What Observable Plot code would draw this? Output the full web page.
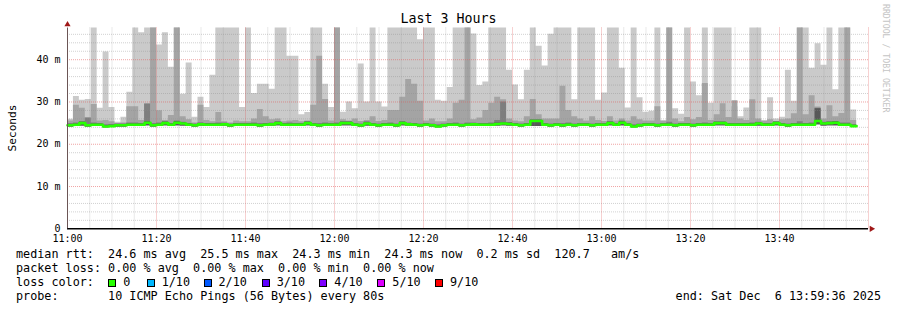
<!DOCTYPE html>
<html>
<head>
<meta charset="utf-8">
<script src="https://cdn.jsdelivr.net/npm/d3@7"></script>
<script src="https://cdn.jsdelivr.net/npm/@observablehq/plot@0.6"></script>
<style>
  html, body { margin: 0; padding: 0; background: #ffffff; }
  #chart { position: relative; width: 897px; height: 310px; background: #ffffff; overflow: hidden;
           font-family: "DejaVu Sans Mono", monospace; color: #000; }
  #chart svg { position: absolute; left: 0; top: 0; }
  .abs { position: absolute; white-space: pre; }
  #title { left: 0; width: 897px; top: 11px; text-align: center; font-size: 13.3px; }
  #ylab { left: 12px; top: 128px; font-size: 11.2px; transform: translate(-50%, -50%) rotate(-90deg); }
  #credit { left: 886px; top: 4px; font-size: 8.2px; color: #c4c4c4; writing-mode: vertical-rl; transform: translateX(-50%); }
  .leg { font-size: 11.78px; line-height: 14px; left: 16px; }
  .sq { position: absolute; width: 6px; height: 6px; border: 1px solid #000; }
  .sqt { position: absolute; font-size: 11.78px; line-height: 14px; white-space: pre; }
</style>
</head>
<body>
<div id="chart"></div>
<script>
// ---- data (80 s bins starting 11:00, minutes since 11:00 derived from index) ----
const stepSeconds = 80;
const maxRtt = [
  25.9, 31.3, 30.4, 30.6, 47.5, 28.5, 41.8, 28.7, 25.2, 26.4,
  32.3, 47.5, 46.4, 47.5, 47.5, 43.5, 46.4, 38.2, 47.5, 31.8,
  39.2, 26.4, 31.1, 28.7, 36.3, 47.5, 47.5, 47.5, 47.5, 28.7,
  47.5, 32.0, 34.2, 34.2, 33.0, 47.5, 47.5, 40.8, 40.8, 27.0,
  27.5, 47.5, 47.5, 34.2, 28.7, 47.5, 27.6, 30.0, 28.4, 39.0,
  30.0, 47.5, 30.0, 28.8, 47.5, 47.5, 47.5, 47.5, 47.5, 44.7,
  47.5, 47.5, 30.4, 30.2, 33.4, 47.5, 47.5, 47.5, 46.1, 33.9,
  34.7, 47.5, 47.5, 47.5, 37.5, 34.0, 30.5, 37.5, 47.5, 43.2,
  38.5, 46.0, 47.5, 47.5, 47.5, 30.5, 47.5, 47.5, 47.5, 30.4,
  32.1, 47.5, 47.5, 38.0, 28.6, 47.5, 31.0, 27.6, 27.8, 47.5,
  25.5, 47.5, 28.4, 27.1, 47.5, 34.7, 31.5, 47.5, 29.7, 47.5,
  47.5, 47.5, 28.9, 26.5, 28.6, 47.5, 47.5, 25.5, 31.0, 26.0,
  26.4, 37.5, 30.2, 47.5, 47.5, 38.0, 43.8, 38.7, 47.5, 32.9,
  47.5, 47.5, 28.1
];
const ping9 = [
  25.5, 29.2, 28.5, 26.2, 29.4, 25.5, 25.6, 25.3, 24.9, 25.0,
  28.9, 28.9, 25.6, 29.5, 47.5, 27.9, 25.6, 26.8, 47.5, 26.5,
  25.8, 25.0, 29.2, 25.6, 25.3, 27.5, 25.3, 25.0, 25.5, 25.3,
  25.3, 26.0, 28.2, 26.5, 25.8, 26.0, 25.3, 25.5, 25.6, 25.3,
  25.5, 29.2, 40.8, 30.6, 25.5, 47.5, 25.8, 25.5, 26.0, 25.4,
  25.6, 26.5, 25.4, 25.6, 28.0, 28.0, 31.1, 35.3, 34.2, 30.2,
  25.5, 26.0, 25.3, 25.3, 26.0, 29.7, 30.4, 47.5, 25.8, 26.2,
  28.0, 29.7, 31.1, 30.5, 26.0, 25.5, 25.3, 26.5, 30.6, 27.0,
  26.0, 26.0, 26.0, 33.7, 28.0, 26.5, 26.0, 25.5, 26.5, 25.6,
  25.4, 26.5, 25.5, 26.0, 25.5, 26.5, 25.8, 25.5, 25.5, 28.9,
  25.5, 47.5, 26.0, 25.3, 26.3, 25.8, 26.3, 34.4, 25.6, 27.0,
  29.6, 26.3, 30.3, 26.0, 25.6, 30.5, 26.0, 25.5, 25.8, 25.3,
  25.8, 26.0, 27.2, 47.5, 27.0, 31.5, 28.8, 26.0, 29.1, 26.5,
  27.3, 47.5, 25.6
];
const ping8 = [
  24.9, 25.0, 25.4, 26.2, 25.0, 24.9, 24.6, 24.7, 24.8, 24.8,
  25.0, 25.0, 24.9, 29.5, 24.9, 25.0, 25.4, 24.9, 25.5, 25.2,
  24.9, 24.8, 25.1, 24.9, 24.9, 25.0, 25.0, 24.8, 24.9, 24.9,
  24.9, 25.0, 24.9, 24.9, 25.0, 25.4, 24.9, 25.0, 24.9, 24.9,
  25.4, 24.9, 24.9, 25.0, 24.9, 25.0, 25.4, 25.4, 24.9, 24.8,
  25.3, 24.9, 24.8, 24.9, 25.0, 24.8, 25.4, 25.0, 24.9, 24.8,
  24.9, 24.8, 24.6, 24.8, 24.9, 25.0, 24.8, 25.0, 25.0, 24.9,
  24.9, 25.0, 25.6, 30.0, 25.1, 24.9, 24.8, 24.9, 25.8, 25.8,
  24.9, 24.8, 24.9, 24.9, 25.0, 24.8, 24.9, 24.9, 24.8, 24.9,
  24.9, 25.4, 24.9, 25.5, 24.9, 24.6, 24.8, 24.9, 24.9, 24.8,
  24.9, 25.2, 24.8, 24.9, 24.9, 24.8, 24.9, 25.0, 24.9, 25.3,
  25.3, 24.9, 24.9, 24.9, 24.9, 25.0, 25.2, 24.9, 24.9, 25.3,
  24.9, 24.8, 24.9, 25.3, 24.9, 25.0, 28.5, 25.2, 25.3, 25.4,
  25.0, 25.0, 24.6
];
const ping7 = [
  24.7, 24.8, 25.2, 24.7, 24.8, 24.8, 24.4, 24.5, 24.7, 24.7,
  24.8, 24.8, 24.8, 25.3, 24.7, 24.8, 25.2, 24.8, 25.3, 25.1,
  24.8, 24.7, 24.9, 24.8, 24.8, 24.8, 24.9, 24.7, 24.8, 24.8,
  24.8, 24.8, 24.7, 24.8, 24.9, 25.2, 24.8, 24.8, 24.8, 24.8,
  25.2, 24.8, 24.7, 24.8, 24.8, 24.8, 25.2, 25.2, 24.8, 24.7,
  25.1, 24.8, 24.7, 24.8, 24.8, 24.7, 25.2, 24.9, 24.8, 24.7,
  24.8, 24.7, 24.4, 24.7, 24.8, 24.8, 24.7, 24.8, 24.9, 24.8,
  24.8, 24.8, 25.0, 25.1, 25.0, 24.8, 24.7, 24.8, 25.7, 25.7,
  24.8, 24.7, 24.8, 24.7, 24.8, 24.7, 24.8, 24.8, 24.7, 24.8,
  24.8, 25.2, 24.8, 25.3, 24.8, 24.4, 24.7, 24.8, 24.8, 24.7,
  24.8, 24.8, 24.7, 24.8, 24.8, 24.7, 24.8, 24.8, 24.8, 25.2,
  25.2, 24.8, 24.8, 24.8, 24.8, 24.8, 25.1, 24.8, 24.8, 25.2,
  24.8, 24.7, 24.8, 24.8, 24.8, 24.8, 28.4, 25.1, 25.2, 25.3,
  24.8, 24.8, 24.5
];
const medianRtt = [
  24.5, 24.6, 25.0, 24.5, 24.6, 24.6, 24.2, 24.3, 24.5, 24.5,
  24.6, 24.6, 24.6, 25.1, 24.5, 24.6, 25.0, 24.6, 25.1, 24.9,
  24.6, 24.5, 24.7, 24.6, 24.6, 24.6, 24.7, 24.5, 24.6, 24.6,
  24.6, 24.6, 24.5, 24.6, 24.7, 25.0, 24.6, 24.6, 24.6, 24.6,
  25.0, 24.6, 24.5, 24.6, 24.6, 24.6, 25.0, 25.0, 24.6, 24.5,
  24.9, 24.6, 24.5, 24.6, 24.6, 24.5, 25.0, 24.7, 24.6, 24.5,
  24.6, 24.5, 24.2, 24.5, 24.6, 24.6, 24.5, 24.6, 24.7, 24.6,
  24.6, 24.6, 24.8, 24.9, 24.8, 24.6, 24.5, 24.6, 25.5, 25.5,
  24.6, 24.5, 24.6, 24.5, 24.6, 24.5, 24.6, 24.6, 24.5, 24.6,
  24.6, 25.0, 24.6, 25.1, 24.6, 24.2, 24.5, 24.6, 24.6, 24.5,
  24.6, 24.6, 24.5, 24.6, 24.6, 24.5, 24.6, 24.6, 24.6, 25.0,
  25.0, 24.6, 24.6, 24.6, 24.6, 24.6, 24.9, 24.6, 24.6, 25.0,
  24.6, 24.5, 24.6, 24.6, 24.6, 24.6, 25.5, 24.9, 25.0, 25.1,
  24.6, 24.6, 24.3
];
const minRtt = [
  24.1, 24.2, 24.3, 24.1, 24.2, 24.2, 23.9, 24.0, 24.1, 24.1,
  24.2, 24.2, 24.2, 24.4, 24.1, 24.2, 24.4, 24.2, 24.4, 24.3,
  24.2, 24.1, 24.3, 24.2, 24.2, 24.2, 24.3, 24.1, 24.2, 24.2,
  24.2, 24.2, 24.1, 24.2, 24.3, 24.4, 24.2, 24.2, 24.2, 24.2,
  24.4, 24.2, 24.1, 24.2, 24.2, 24.2, 24.4, 24.4, 24.2, 24.1,
  24.3, 24.2, 24.1, 24.2, 24.2, 24.1, 24.4, 24.3, 24.2, 24.1,
  24.2, 24.1, 23.9, 24.1, 24.2, 24.2, 24.1, 24.2, 24.3, 24.2,
  24.2, 24.2, 24.3, 24.4, 24.3, 24.2, 24.1, 24.2, 24.2, 24.2,
  24.2, 24.1, 24.2, 24.1, 24.2, 24.1, 24.2, 24.2, 24.1, 24.2,
  24.2, 24.4, 24.2, 24.4, 24.2, 23.9, 24.1, 24.2, 24.2, 24.1,
  24.2, 24.2, 24.1, 24.2, 24.2, 24.1, 24.2, 24.2, 24.2, 24.4,
  24.4, 24.2, 24.2, 24.2, 24.2, 24.2, 24.3, 24.2, 24.2, 24.4,
  24.2, 24.1, 24.2, 24.2, 24.2, 24.2, 24.6, 24.3, 24.4, 24.4,
  24.2, 24.2, 24.0
];
const xTickMinutes = [0, 20, 40, 60, 80, 100, 120, 140, 160];
const xTickLabels = ["11:00", "11:20", "11:40", "12:00", "12:20", "12:40", "13:00", "13:20", "13:40"];
const yTicks = [0, 10, 20, 30, 40];
const yTickLabels = ["0", "10 m", "20 m", "30 m", "40 m"];
const lossColors = [
  {label: "0", color: "#26ff00"},
  {label: "1/10", color: "#00b8ff"},
  {label: "2/10", color: "#0059ff"},
  {label: "3/10", color: "#5e00ff"},
  {label: "4/10", color: "#7e00ff"},
  {label: "5/10", color: "#dd00ff"},
  {label: "9/10", color: "#ff0000"}
];
const smokeColors = ["#cacaca", "#a4a4a4", "#7e7e7e", "#585858"];

// ---- build table ----
const rows = maxRtt.map((v, i) => ({
  t: i * stepSeconds / 60, lo: minRtt[i], hi1: v, hi2: ping9[i], hi3: ping8[i], hi4: ping7[i], med: medianRtt[i]
}));
const last = rows[rows.length - 1];
rows.push({...last, t: rows.length * stepSeconds / 60});

const yMax = 47.5, xMax = 180;
const minorX = d3.range(5, xMax + 1, 5).filter(d => d % 20 !== 0);
const majorX = d3.range(20, xMax + 1, 20);
const minorY = d3.range(2, yMax, 2).filter(d => d % 10 !== 0);
const majorY = d3.range(10, yMax, 10);

const plot = Plot.plot({
  width: 897, height: 250,
  marginLeft: 67, marginRight: 29, marginTop: 27.5, marginBottom: 21.7,
  style: {fontFamily: "DejaVu Sans Mono, monospace", fontSize: "10px", color: "#000", background: "transparent"},
  x: {domain: [0, xMax], ticks: xTickMinutes, tickFormat: d => xTickLabels[xTickMinutes.indexOf(d)], tickSize: 0, tickPadding: 6, label: null},
  y: {domain: [0, yMax], ticks: yTicks, tickFormat: d => yTickLabels[yTicks.indexOf(d)], tickSize: 0, tickPadding: 7, label: null},
  marks: [
    Plot.areaY(rows, {x: "t", y1: "lo", y2: "hi1", curve: "step-after", fill: smokeColors[0]}),
    Plot.areaY(rows, {x: "t", y1: "lo", y2: "hi2", curve: "step-after", fill: smokeColors[1]}),
    Plot.areaY(rows, {x: "t", y1: "lo", y2: "hi3", curve: "step-after", fill: smokeColors[2]}),
    Plot.areaY(rows, {x: "t", y1: "lo", y2: "hi4", curve: "step-after", fill: smokeColors[3]}),
    Plot.ruleX(minorX, {stroke: "rgba(140,140,140,0.4)", strokeDasharray: "1,1"}),
    Plot.ruleY(minorY, {stroke: "rgba(140,140,140,0.4)", strokeDasharray: "1,1"}),
    Plot.ruleX(majorX, {stroke: "rgba(225,90,90,0.55)", strokeDasharray: "1,1"}),
    Plot.ruleY(majorY, {stroke: "rgba(225,90,90,0.55)", strokeDasharray: "1,1"}),
    Plot.lineY(rows, {x: "t", y: "med", curve: "step-after", stroke: lossColors[0].color, strokeWidth: 2.6}),
    Plot.ruleY([0], {stroke: "#000", strokeWidth: 1.6, dx: 0}),
    Plot.ruleX([0], {stroke: "#6b5555", strokeWidth: 1}),
    Plot.dot([{x: 0, y: yMax}], {x: "x", y: "y", symbol: "triangle", r: 2.3, fill: "#a01818", stroke: "none", dy: -3.5}),
    Plot.dot([{x: xMax, y: 0}], {x: "x", y: "y", symbol: "triangle", r: 2.3, fill: "#a01818", stroke: "none", rotate: 90, dx: 3})
  ]
});

const chart = document.getElementById("chart");
chart.appendChild(plot);

function addDiv(cls, id, text, css) {
  const d = document.createElement("div");
  d.className = cls; if (id) d.id = id; d.textContent = text;
  if (css) Object.assign(d.style, css);
  chart.appendChild(d); return d;
}
addDiv("abs", "title", "Last 3 Hours");
addDiv("abs", "ylab", "Seconds");
addDiv("abs", "credit", "RRDTOOL / TOBI OETIKER");

const legendLines = [
  "median rtt:  24.6 ms avg  25.5 ms max  24.3 ms min  24.3 ms now  0.2 ms sd  120.7   am/s",
  "packet loss: 0.00 % avg  0.00 % max  0.00 % min  0.00 % now",
  "loss color:",
  "probe:       10 ICMP Echo Pings (56 Bytes) every 80s"
];
legendLines.forEach((txt, i) => addDiv("abs leg", null, txt, {top: (247.2 + i * 14) + "px"}));
addDiv("abs leg", null, "end: Sat Dec  6 13:59:36 2025", {top: (247.2 + 3 * 14) + "px", left: "auto", right: "16px"});

const sqLeft = [108.3, 146.7, 203.5, 261.7, 319.3, 377.3, 435];
lossColors.forEach((c, i) => {
  const s = document.createElement("div");
  s.className = "sq";
  Object.assign(s.style, {left: sqLeft[i] + "px", top: "278.5px", background: c.color});
  chart.appendChild(s);
  const t = document.createElement("div");
  t.className = "sqt"; t.textContent = c.label;
  Object.assign(t.style, {left: (sqLeft[i] + 15) + "px", top: (247.2 + 2 * 14) + "px"});
  chart.appendChild(t);
});
</script>
</body>
</html>
